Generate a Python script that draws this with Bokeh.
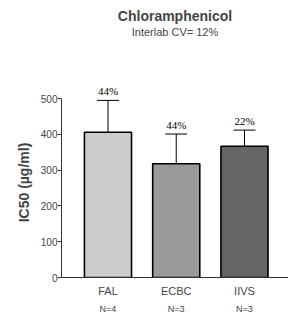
from bokeh.plotting import figure
from bokeh.models import (ColumnDataSource, Range1d, FixedTicker, LinearAxis,
                          Whisker, TeeHead, LabelSet, Title)
from bokeh.embed import file_html
from bokeh.resources import INLINE

labs = ["FAL", "ECBC", "IIVS"]
pos = [1, 2, 3]
ic50 = [406, 318, 367]
err = [89, 83, 45]
cv = ["44%", "44%", "22%"]
nlab = ["N=4", "N=3", "N=3"]
colors = ["#cccccc", "#999999", "#666666"]
yticks = [0, 100, 200, 300, 400, 500]

FONT = "Liberation Sans"

src = ColumnDataSource(dict(x=pos, y=ic50, top=[a + b for a, b in zip(ic50, err)],
                            cv=cv, color=colors))

p = figure(frame_width=227, frame_height=190, output_backend="svg", toolbar_location=None,
           x_range=Range1d(0.319, 3.645), y_range=Range1d(0, 531),
           min_border_left=61, min_border_right=0, min_border_top=87, min_border_bottom=5,
           x_axis_location=None, y_axis_location=None)
p.outline_line_color = None
p.grid.visible = False
p.background_fill_color = "white"

p.vbar(x="x", top="y", bottom=0, width=0.69, source=src, fill_color="color",
       line_color="black", line_width=1.6)

wh = Whisker(base="x", lower="y", upper="top", source=src, line_color="black", line_width=1,
             upper_head=TeeHead(size=22, line_color="black", line_width=1), lower_head=None)
p.add_layout(wh)

p.add_layout(LabelSet(x="x", y="top", text="cv", source=src, y_offset=3, text_align="center",
                      text_font=FONT, text_font_size="11px", text_color="black"))

# y axis
ya = LinearAxis(ticker=FixedTicker(ticks=yticks), bounds=(0, 500))
ya.axis_label = "IC50 (µg/ml)"
ya.axis_label_text_font = FONT
ya.axis_label_text_font_style = "bold"
ya.axis_label_text_font_size = "14px"
ya.axis_label_standoff = 6
ya.major_label_text_font = FONT
ya.major_label_text_font_size = "10px"
ya.major_label_standoff = 0
ya.major_tick_out = 4
ya.major_tick_in = 0
ya.minor_tick_out = 0
ya.minor_tick_in = 0
ya.axis_line_color = "#333333"
ya.major_tick_line_color = "#333333"
p.add_layout(ya, "left")

# x axis with site names
xa = LinearAxis(ticker=FixedTicker(ticks=pos),
                major_label_overrides={k: v for k, v in zip(pos, labs)})
xa.major_tick_out = 0
xa.major_tick_in = 0
xa.minor_tick_out = 0
xa.minor_tick_in = 0
xa.major_label_standoff = 7
xa.major_label_text_font = FONT
xa.major_label_text_font_size = "11px"
xa.axis_line_color = "#333333"
p.add_layout(xa, "below")

# second row: N
xa2 = LinearAxis(ticker=FixedTicker(ticks=pos),
                 major_label_overrides={k: v for k, v in zip(pos, nlab)})
xa2.major_tick_out = 0
xa2.major_tick_in = 0
xa2.minor_tick_out = 0
xa2.minor_tick_in = 0
xa2.major_label_standoff = 4
xa2.major_label_text_font = FONT
xa2.major_label_text_font_size = "9px"
xa2.axis_line_color = None
p.add_layout(xa2, "below")

spacer = Title(text=" ", align="center", text_font=FONT, text_font_size="11px", standoff=36)
sub = Title(text="Interlab CV= 12%", align="center", text_font=FONT,
            text_font_size="11px", text_font_style="normal", standoff=0)
main = Title(text="Chloramphenicol", align="center", text_font=FONT,
             text_font_size="14px", text_font_style="bold", standoff=0)
p.add_layout(spacer, "above")
p.add_layout(sub, "above")
p.add_layout(main, "above")

open("out.html", "w").write(file_html(p, INLINE))
